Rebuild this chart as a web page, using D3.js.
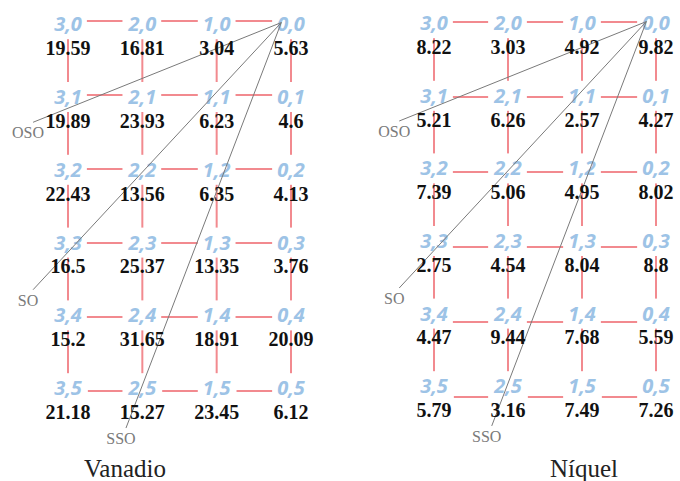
<!DOCTYPE html>
<html>
<head>
<meta charset="utf-8">
<script src="https://cdn.jsdelivr.net/npm/d3@7"></script>
<style>
  body{margin:0;background:#fff;}
  svg{display:block;}
</style>
</head>
<body>
<svg id="chart" width="680" height="481"></svg>
<script>
// grid columns run 3 -> 0 from left to right, rows 0 -> 5 top to bottom
const cols = [3,2,1,0];
const rows = [0,1,2,3,4,5];

const vanadio = [
  [19.59, 16.81, 3.04, 5.63],
  [19.89, 23.93, 6.23, 4.6],
  [22.43, 13.56, 6.35, 4.13],
  [16.5, 25.37, 13.35, 3.76],
  [15.2, 31.65, 18.91, 20.09],
  [21.18, 15.27, 23.45, 6.12]
];
const niquel = [
  [8.22, 3.03, 4.92, 9.82],
  [5.21, 6.26, 2.57, 4.27],
  [7.39, 5.06, 4.95, 8.02],
  [2.75, 4.54, 8.04, 8.8],
  [4.47, 9.44, 7.68, 5.59],
  [5.79, 3.16, 7.49, 7.26]
];

// direction rays from cell 0,0, end points in grid units (col,row)
const origin = {col:0.13, row:-0.02};
const directions = [
  {name:"OSO", col:3.47, row:1.35},
  {name:"SO",  col:3.47, row:3.65},
  {name:"SSO", col:2.22, row:5.55}
];

const panels = [
  {title:"Vanadio", values:vanadio, xr:[68,291], ly:[24,388], gy:[21,391], titleX:125},
  {title:"Níquel",  values:niquel,  xr:[434,656], ly:[23,386], gy:[22,397], titleX:584}
];

const svg = d3.select("#chart");
svg.append("rect").attr("width",680).attr("height",481).attr("fill","#fff");

const red = "#f28a8f", blue = "#9dc3e6", grey = "#7a7a7a";

panels.forEach(p=>{
  const x = d3.scaleLinear().domain([3,0]).range(p.xr);
  const y = d3.scaleLinear().domain([0,5]).range(p.ly);
  const gy = d3.scaleLinear().domain([0,5]).range(p.gy);
  const g = svg.append("g");

  // red grid
  g.selectAll(".h").data(rows).enter().append("line")
    .attr("x1",x(3)).attr("x2",x(0))
    .attr("y1",d=>gy(d)).attr("y2",d=>gy(d))
    .attr("stroke",red).attr("stroke-width",2);
  g.selectAll(".v").data(cols).enter().append("line")
    .attr("x1",d=>x(d)).attr("x2",d=>x(d))
    .attr("y1",gy(0)).attr("y2",gy(5))
    .attr("stroke",red).attr("stroke-width",2);

  // cell labels "c,r" with white boxes over the grid
  const cells = [];
  rows.forEach(r=>cols.forEach((c,ci)=>cells.push({c,r,v:p.values[r][ci]})));

  const lab = g.selectAll(".lab").data(cells).enter().append("g");
  const lt = lab.append("text")
    .attr("x",d=>x(d.c)).attr("y",d=>y(d.r)).attr("dy","0.36em")
    .attr("text-anchor","middle")
    .attr("font-family","'Open Sans', sans-serif")
    .attr("font-style","italic").attr("font-weight","bold")
    .attr("font-size",20).attr("fill",blue)
    .text(d=>d.c+","+d.r);
  lt.each(function(){
    const b = this.getBBox();
    d3.select(this.parentNode).insert("rect","text")
      .attr("x",b.x-5).attr("y",b.y-1).attr("width",b.width+10).attr("height",b.height+3)
      .attr("fill","#fff");
  });

  // direction rays
  const ends = directions.map(d=>({name:d.name, x:x(d.col), y:y(d.row)}));
  g.selectAll(".ray").data(ends).enter().append("line")
    .attr("x1",x(origin.col)).attr("y1",y(origin.row))
    .attr("x2",d=>d.x).attr("y2",d=>d.y)
    .attr("stroke",grey).attr("stroke-width",1);
  g.selectAll(".rayl").data(ends).enter().append("text")
    .attr("x",d=>d.x-5).attr("y",d=>d.y+16)
    .attr("text-anchor","middle")
    .attr("font-family","'Liberation Serif', serif")
    .attr("font-size",16).attr("fill",grey)
    .text(d=>d.name);

  // values
  g.selectAll(".val").data(cells).enter().append("text")
    .attr("x",d=>x(d.c)).attr("y",d=>y(d.r)+31)
    .attr("text-anchor","middle")
    .attr("font-family","'Liberation Serif', serif")
    .attr("font-weight","bold").attr("font-size",20).attr("fill","#111")
    .text(d=>d.v);

  g.append("text")
    .attr("x",p.titleX).attr("y",477)
    .attr("text-anchor","middle")
    .attr("font-family","'Liberation Serif', serif")
    .attr("font-size",25).attr("fill","#222")
    .text(p.title);
});
</script>
</body>
</html>
